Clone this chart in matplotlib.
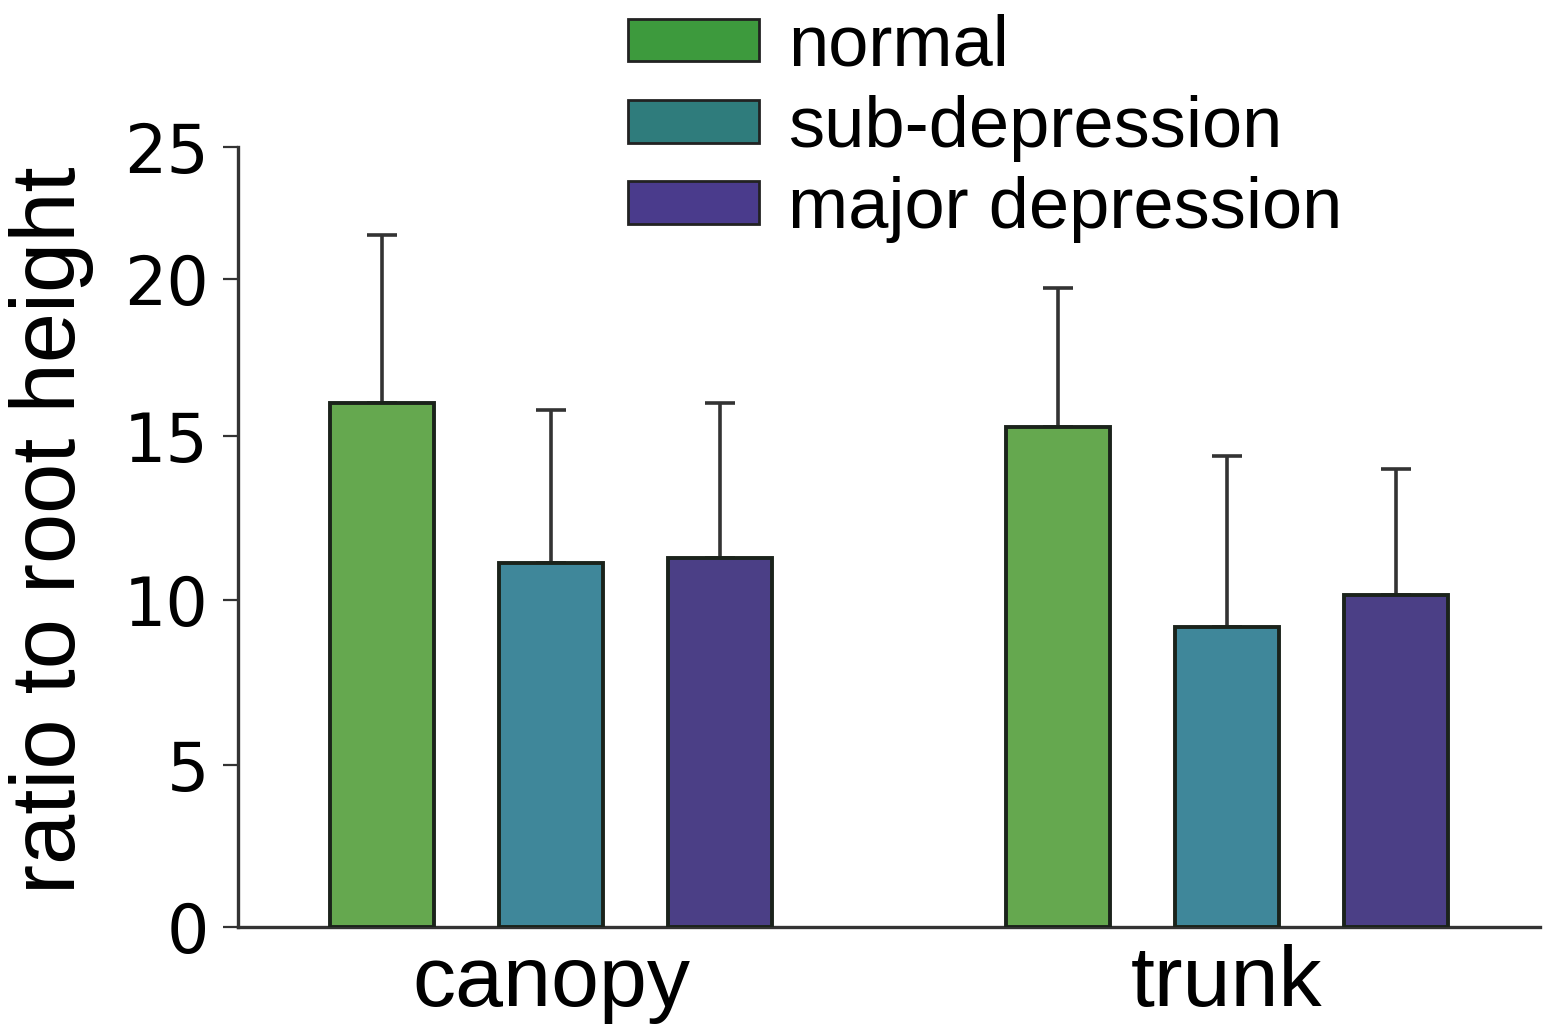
import numpy as np
import matplotlib
matplotlib.use("Agg")
import matplotlib.pyplot as plt
from matplotlib.patches import Patch

# ---- data ----
groups = ["canopy", "trunk"]
series = ["normal", "sub-depression", "major depression"]
means = {
    "normal": [16.05, 15.29],
    "sub-depression": [11.13, 9.18],
    "major depression": [11.28, 10.15],
}
errors = {
    "normal": [5.62, 4.42],
    "sub-depression": [4.70, 5.21],
    "major depression": [4.77, 3.84],
}
bar_colors = ["#65a84f", "#3f879a", "#4b3f86"]
legend_colors = ["#3d9a3d", "#2f7c7c", "#4a3b8c"]
yticks = [0, 5, 10, 15, 20, 25]
# the printed axis is not evenly spaced; positions (px) of each tick above zero
ytick_pos = [0, 162, 327, 491, 648, 780]

def fwd(v):
    return np.interp(v, yticks, ytick_pos)

def inv(p):
    return np.interp(p, ytick_pos, yticks)

fig = plt.figure(figsize=(15.49, 10.35), dpi=100)
ax = fig.add_axes([238 / 1549, 1 - 927 / 1035, (1540 - 238) / 1549, (927 - 147) / 1035])
ax.set_yscale("function", functions=(fwd, inv))

x = np.arange(len(groups))
offsets = [-0.25, 0.0, 0.25]
width = 0.154
for s, off, col in zip(series, offsets, bar_colors):
    ax.bar(x + off, means[s], width, color=col, edgecolor="#1b231b", linewidth=2.8, zorder=3)
    ax.errorbar(x + off, means[s], yerr=[np.zeros(len(groups)), errors[s]], fmt="none",
                ecolor="#333333", elinewidth=2.6, capsize=11, capthick=2.6, zorder=2)

ax.set_xlim(-0.463, 1.463)
ax.set_ylim(0, 25)
ax.set_yticks(yticks)
ax.set_yticklabels([str(t) for t in yticks], fontfamily="DejaVu Sans", fontsize=48)
ax.set_xticks(x)
ax.set_xticklabels(groups, fontfamily="Liberation Sans", fontsize=62)
ax.tick_params(axis="x", length=0, pad=12)
ax.tick_params(axis="y", length=11, width=1.6, pad=10, color="#333333")
for side in ["top", "right"]:
    ax.spines[side].set_visible(False)
for side in ["left", "bottom"]:
    ax.spines[side].set_linewidth(2.4)
    ax.spines[side].set_color("#333333")

fig.text(52 / 1549, 1 - 530 / 1035, "ratio to root height", rotation=90,
         ha="center", va="center", fontfamily="Liberation Sans", fontsize=65)

handles = [Patch(facecolor=c, edgecolor="#222222", linewidth=2) for c in legend_colors]
fig.legend(handles, series, loc="upper left", bbox_to_anchor=(628 / 1549, 0.987),
           frameon=False, borderpad=0, borderaxespad=0,
           prop={"family": "Liberation Sans", "size": 52},
           handlelength=1.82, handleheight=0.53, handletextpad=0.4, labelspacing=0.2)

fig.savefig("out.png", dpi=100, facecolor="white")
